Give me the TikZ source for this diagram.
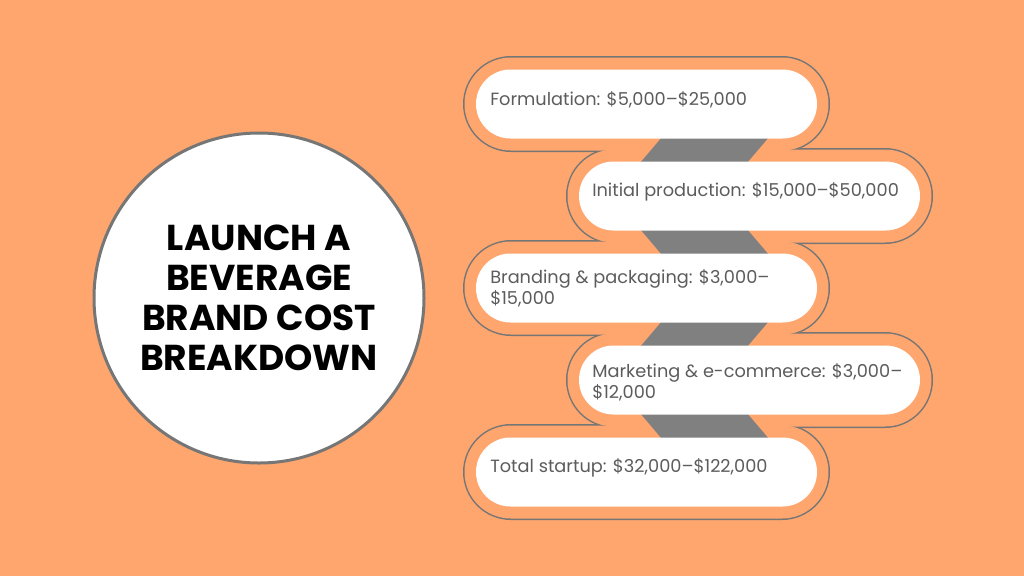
\documentclass[tikz,border=0pt]{standalone}
\usepackage{fontspec}
\setmainfont{Poppins}
\definecolor{bgorange}{RGB}{254,166,110}
\definecolor{rimgray}{RGB}{118,118,118}
\definecolor{bridgegray}{RGB}{128,128,128}
\definecolor{txtgray}{RGB}{92,92,92}
\tikzset{
  pilltext/.style={anchor=base west, inner sep=0pt, text=txtgray, align=left,
    font=\fontsize{13.3}{15.5}\selectfont},
}

\begin{document}
\begin{tikzpicture}[x=0.75pt,y=0.75pt,yscale=-1,xscale=1]
\useasboundingbox (0,0) rectangle (1024,576);
%Shape: Background
\fill[bgorange] (0,0) rectangle (1024,576);

%Shape: Circle
\draw[rimgray, line width=2.25pt, fill=white] (259,298) circle (165);

%Shape: Outer rims (stroke first, then fill, so touching rims merge)
\foreach \i/\xl in {0/476,1/579,2/476,3/579,4/476} {
  \pgfmathsetmacro\yc{104+92*\i}
  \draw[rimgray, line width=2.25pt, rounded corners=34.875pt] (\xl-11.5,\yc-46.5) rectangle (\xl+352.5,\yc+46.5);
}
\foreach \i/\xl in {0/476,1/579,2/476,3/579,4/476} {
  \pgfmathsetmacro\yc{104+92*\i}
  \fill[bgorange, rounded corners=34.875pt] (\xl-11.5,\yc-46.5) rectangle (\xl+352.5,\yc+46.5);
}

%Shape: Bridges between pills
\foreach \i/\s in {0/1,1/-1,2/1,3/-1} {
  \pgfmathsetmacro\ym{150+92*\i}
  \fill[bridgegray] (651+\s*17,\ym-20) -- (758+\s*17,\ym-20) -- (758-\s*17,\ym+20) -- (651-\s*17,\ym+20) -- cycle;
}

%Shape: Pills
\foreach \i/\xl in {0/476,1/579,2/476,3/579,4/476} {
  \pgfmathsetmacro\yc{104+92*\i}
  \fill[white, rounded corners=25.875pt] (\xl,\yc-34.5) rectangle (\xl+341,\yc+34.5);
}

% Text Node
\node[align=center, inner sep=0pt, font=\fontsize{27}{30}\selectfont\bfseries] (title) at (259,298) {LAUNCH A\\BEVERAGE\\BRAND COST\\BREAKDOWN};
% Text Node
\node[pilltext] (formulation) at (490,105) {Formulation: \$5,000--\$25,000};
% Text Node
\node[pilltext] (production) at (592,196) {Initial production: \$15,000--\$50,000};
% Text Node
\node[pilltext] (branding) at (490,304.5) {Branding \& packaging: \$3,000--\\\$15,000};
% Text Node
\node[pilltext] (marketing) at (592,398) {Marketing \& e-commerce: \$3,000--\\\$12,000};
% Text Node
\node[pilltext] (total) at (490,472) {Total startup: \$32,000--\$122,000};

\end{tikzpicture}
\end{document}
